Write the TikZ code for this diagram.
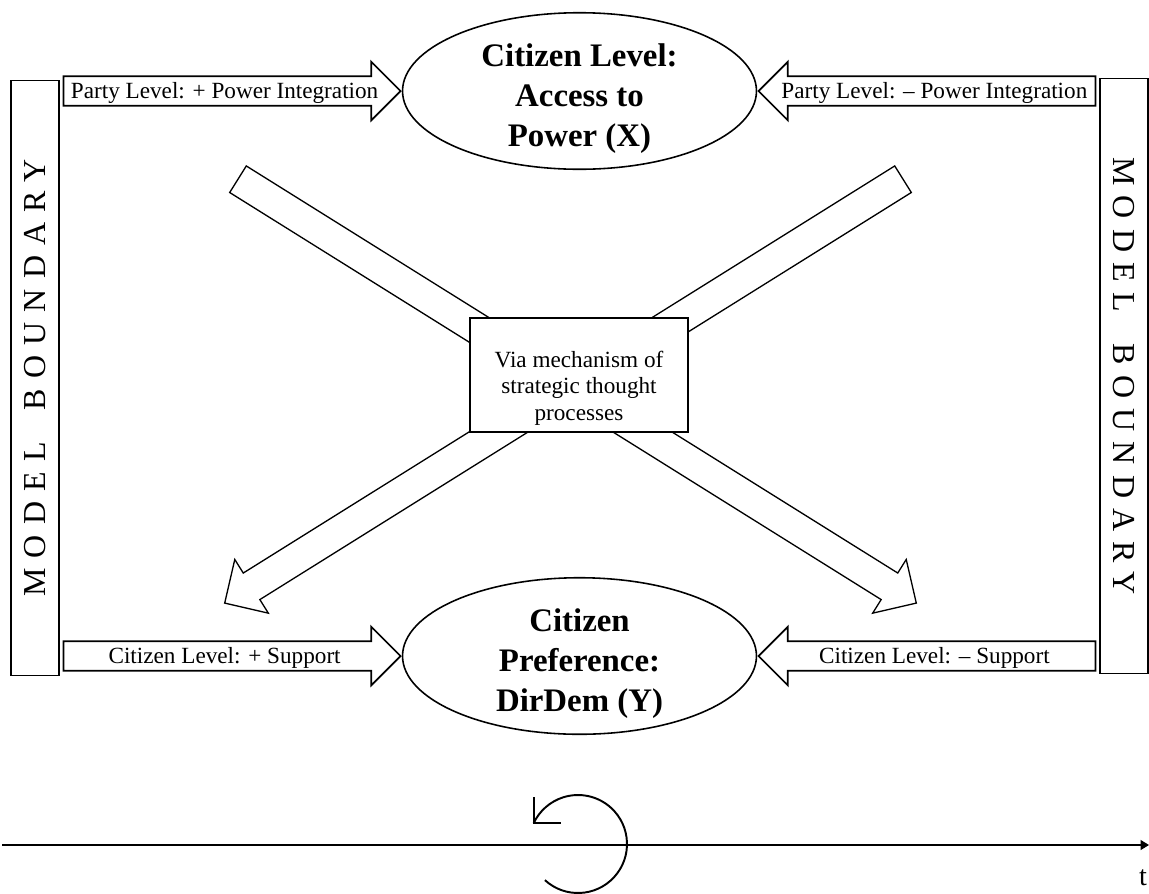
\documentclass[tikz,border=0pt]{standalone}
\usepackage{fontspec}
\setmainfont{Liberation Serif}
\newfontfamily\boundfont[LetterSpace=32]{Liberation Serif}
\usetikzlibrary{shapes,arrows,arrows.meta,positioning,calc}

\begin{document}
\begin{tikzpicture}[x=0.02cm, y=-0.02cm, semithick]
\tikzstyle{level}=[draw, ellipse, line width=0.9pt, minimum width=7.08cm, minimum height=3.12cm, inner sep=0pt, align=center, text height=63pt, text depth=0pt, font=\fontsize{18.7}{22.8}\selectfont\bfseries]
\tikzstyle{boundary}=[draw, line width=0.9pt, minimum width=11.9cm, minimum height=0.96cm, inner sep=0pt, font=\fontsize{18.2}{20}\selectfont\boundfont]
\tikzstyle{sidearrow}=[draw, single arrow, line width=1pt, single arrow head extend=0.29cm, minimum height=6.74cm, inner xsep=0pt, inner ysep=1.45pt, text height=11pt, text depth=2pt, font=\fontsize{13.2}{15.1}\selectfont]
\tikzstyle{crossarrow}=[draw, single arrow, line width=0.75pt, single arrow head extend=0.32cm, minimum height=16cm, inner xsep=0pt, inner ysep=0.3cm]
\tikzstyle{midbox}=[draw, fill=white, line width=1pt, minimum width=4.36cm, minimum height=2.28cm, align=center, text height=51.7pt, text depth=0pt, font=\fontsize{13.2}{15.1}\selectfont]

\useasboundingbox (0,0) rectangle (1149,893);

\node[boundary, rotate=90]  (lbound) at (35,378)   {MODEL\hspace{1em}BOUNDARY};
\node[boundary, rotate=-90] (rbound) at (1124,376) {MODEL\hspace{1em}BOUNDARY};

\node[crossarrow, rotate=-32]  (dright) at (570.5,387) {};
\node[crossarrow, rotate=-148] (dleft)  at (570.5,387) {};

\node[level] (access) at (579.5,91)  {Citizen Level:\\Access to\\Power (X)};
\node[level] (pref)   at (579.5,656) {Citizen\\Preference:\\DirDem (Y)};

\node[sidearrow, anchor=tip] (pplus) at (access.west) {Party Level: + Power Integration};
\node[sidearrow, anchor=tip, shape border rotate=180] (pminus) at (access.east) {Party Level: -- Power Integration};
\node[sidearrow, anchor=tip] (cplus) at (pref.west) {Citizen Level: + Support};
\node[sidearrow, anchor=tip, shape border rotate=180] (cminus) at (pref.east) {Citizen Level: -- Support};

\node[midbox] (via) at (579,375) {Via mechanism of\\strategic thought\\processes};

\coordinate (t0) at (2,845);
\coordinate (tend) at (1149,845);
\node[font=\fontsize{16}{18}\selectfont] (tlabel) at (1143,878) {t};
\draw[line width=0.8pt, -{Triangle[length=0.17cm, width=0.2cm]}] (t0) -- (tend);

\coordinate (cyc) at (578,844);
\draw[line width=1.1pt] (cyc) ++(-132.5:0.98cm) arc[start angle=-132.5, end angle=155, radius=0.98cm] coordinate (ctip);
\draw[line width=1.1pt] (ctip) ++(0,-26) -- (ctip) -- ++(27,0);
\end{tikzpicture}
\end{document}
